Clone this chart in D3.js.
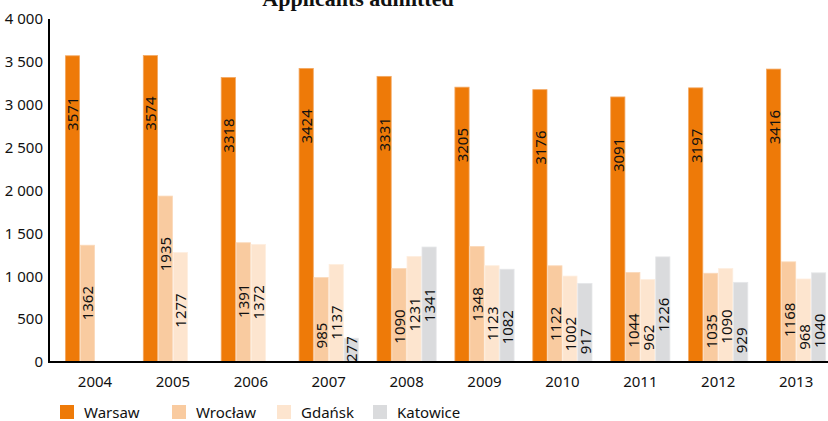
<!DOCTYPE html>
<html>
<head>
<meta charset="utf-8">
<script src="https://cdn.jsdelivr.net/npm/d3@7/dist/d3.min.js"></script>
<style>
  html, body { margin: 0; padding: 0; background: #fff; }
  svg { display: block; }
  text { font-family: "Noto Sans", "Open Sans", sans-serif; fill: #111; }
</style>
</head>
<body>
<svg id="chart" width="828" height="421"></svg>
<script>
// ---- data ----
const years = ["2004","2005","2006","2007","2008","2009","2010","2011","2012","2013"];
const seriesNames = ["Warsaw","Wrocław","Gdańsk","Katowice"];
const warsaw   = [3571,3574,3318,3424,3331,3205,3176,3091,3197,3416];
const wroclaw  = [1362,1935,1391,985,1090,1348,1122,1044,1035,1168];
const gdansk   = [null,1277,1372,1137,1231,1123,1002,962,1090,968];
const katowice = [null,null,null,277,1341,1082,917,1226,929,1040];
const yTicks   = [0,500,1000,1500,2000,2500,3000,3500,4000];
const title    = "Applicants admitted";

// ---- styles / layout ----
const colors = ["#EE7A08","#F9CBA0","#FDE5CF","#DADBDD"];
const strokes = ["#F3A862","#FBD9BA","#FEEEDF","#E6E7E9"];
const legendX = [60,172,277,373];

const series = [warsaw, wroclaw, gdansk, katowice];
const svg = d3.select("#chart");

const y = d3.scaleLinear().domain([0,4000]).range([362,19]);
const x = d3.scaleBand().domain(years).range([57.2,833.9]).paddingInner(0.2298).paddingOuter(0.1);
const xs = d3.scaleBand().domain(seriesNames).range([0, x.bandwidth()]).padding(0);

const fmt = d3.formatLocale({decimal:",", thousands:" ", grouping:[3], currency:["",""]}).format(",");

// title (partly cut off at the top, as in the reference)
svg.append("text")
  .attr("x", 358).attr("y", 6)
  .attr("text-anchor","middle")
  .style("font-family","'Liberation Serif','DejaVu Serif',serif")
  .style("font-weight","bold")
  .style("font-size","22px")
  .text(title);

// bars
seriesNames.forEach((name, si) => {
  const vals = series[si];
  const g = svg.append("g");
  years.forEach((yr, i) => {
    const v = vals[i];
    if (v == null) return;
    const bx = x(yr) + xs(name);
    g.append("rect")
      .attr("x", bx + 0.4)
      .attr("y", y(v))
      .attr("width", xs.bandwidth() - 0.8)
      .attr("height", y(0) - y(v))
      .attr("fill", colors[si])
      .attr("stroke", strokes[si])
      .attr("stroke-width", 0.8);
  });
});

// labels
seriesNames.forEach((name, si) => {
  const vals = series[si];
  years.forEach((yr, i) => {
    const v = vals[i];
    if (v == null) return;
    const cx = x(yr) + xs(name) + xs.bandwidth()/2;
    const label = String(v);
    const halfLen = label.length * 8.6 / 2;
    const cy = Math.min(y(v) + 58, y(0) - halfLen);
    svg.append("text")
      .attr("transform", `translate(${cx},${cy}) rotate(-90)`)
      .attr("text-anchor","middle")
      .attr("dominant-baseline","central")
      .style("font-size","15px")
      .text(label);
  });
});

// y axis
const yAxis = d3.axisLeft(y).tickValues(yTicks).tickSize(0).tickPadding(6).tickFormat(fmt);
const ya = svg.append("g").attr("transform","translate(49,0)").call(yAxis);
ya.select(".domain").remove();
ya.selectAll("text").style("font-size","15px").style("font-family","'Noto Sans','Open Sans',sans-serif").attr("fill","#111");
svg.append("line").attr("x1",49).attr("x2",49).attr("y1",y(4000)).attr("y2",y(0)+1)
  .attr("stroke","#000").attr("stroke-width",2);

// x axis
const xAxis = d3.axisBottom(x).tickSize(0).tickPadding(14);
const xa = svg.append("g").attr("transform",`translate(0,${y(0)})`).call(xAxis);
xa.select(".domain").remove();
xa.selectAll("text").style("font-size","15px").style("font-family","'Noto Sans','Open Sans',sans-serif").attr("fill","#111");
svg.append("line").attr("x1",48).attr("x2",828).attr("y1",y(0)).attr("y2",y(0))
  .attr("stroke","#000").attr("stroke-width",2.2);

// legend
const lg = svg.append("g");
seriesNames.forEach((name, si) => {
  lg.append("rect").attr("x", legendX[si]).attr("y", 405).attr("width",14).attr("height",14)
    .attr("fill", colors[si]);
  lg.append("text").attr("x", legendX[si] + 24).attr("y", 412)
    .attr("dominant-baseline","central")
    .style("font-size","15px")
    .text(name);
});
</script>
</body>
</html>
